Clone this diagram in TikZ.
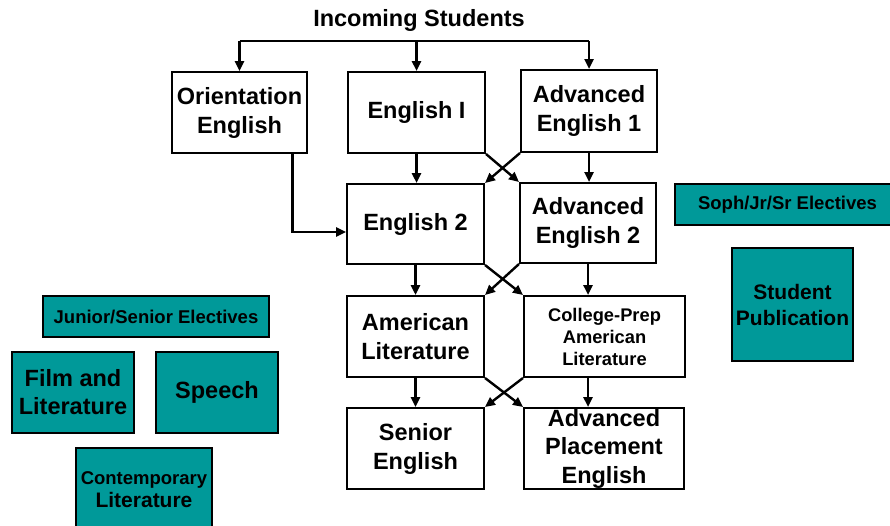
\documentclass[tikz,border=0pt]{standalone}
\usepackage{fontspec}
\setmainfont{Liberation Sans}
\usetikzlibrary{arrows.meta}
\definecolor{electeal}{RGB}{0,153,153}
\tikzset{
  course/.style={draw, line width=2pt, align=center, inner sep=0pt,
    font=\bfseries\fontsize{23.5}{29}\selectfont},
  smallcourse/.style={course, font=\bfseries\fontsize{18.3}{22}\selectfont},
  elective/.style={course, fill=electeal},
  flow/.style={line width=2.4pt, -{Triangle[length=10pt,width=9pt]}},
}
\begin{document}
\begin{tikzpicture}[x=1pt,y=-1pt]
\useasboundingbox (0,0) rectangle (890,525);
\node[font=\bfseries\fontsize{23.5}{28}\selectfont] (incoming) at (419,20){Incoming Students};
\coordinate (bar) at (418,41);
\node[course, minimum width=135, minimum height=81] (orient) at (239.5,112.5){Orientation\\English};
\node[course, minimum width=137, minimum height=81] (eng1) at (416.5,112.5){English I};
\node[course, minimum width=136, minimum height=82] (adv1) at (589,111){Advanced\\English 1};
\node[course, minimum width=137, minimum height=80] (eng2) at (415.5,224){English 2};
\node[course, minimum width=136, minimum height=80] (adv2) at (588,223){Advanced\\English 2};
\node[course, minimum width=137, minimum height=81] (amlit) at (415.5,336.5){American\\Literature};
\node[smallcourse, minimum width=161, minimum height=81] (cprep) at (604.5,336.5){College-Prep\\American\\Literature};
\node[course, minimum width=137, minimum height=81] (senior) at (415.5,448.5){Senior\\English};
\node[course, font=\bfseries\fontsize{23.5}{28.5}\selectfont, minimum width=160, minimum height=81] (ap) at (604,448.5){Advanced\\Placement\\English};
% electives
\node[elective, font=\bfseries\fontsize{18.5}{22}\selectfont, minimum width=225, minimum height=41] (soph) at (787.5,204.5){Soph/Jr/Sr Electives};
\node[elective, font=\bfseries\fontsize{21}{26}\selectfont, minimum width=121, minimum height=113] (pub) at (792.5,304.5){Student\\Publication};
\node[elective, font=\bfseries\fontsize{18.5}{22}\selectfont, minimum width=226, minimum height=41] (jrsr) at (156,316.5){Junior/Senior Electives};
\node[elective, font=\bfseries\fontsize{23.5}{28}\selectfont, minimum width=122, minimum height=81] (film) at (73,392.5){Film and\\Literature};
\node[elective, minimum width=122, minimum height=81] (speech) at (217,392.5){Speech};
\node[elective, font=\bfseries\fontsize{18.5}{23}\selectfont, minimum width=136, minimum height=84] (contemp) at (144,490){Contemporary\\{\fontsize{21}{23}\selectfont Literature}};
% arrows
\draw[line width=2.4pt] (orient.north |- bar) -- (adv1.north |- bar);
\draw[flow] (orient.north |- bar) -- (orient.north);
\draw[flow] (eng1.north |- bar) -- (eng1.north);
\draw[flow] (adv1.north |- bar) -- (adv1.north);
\draw[flow] ([xshift=53pt]orient.south) |- ([yshift=-8pt]eng2.west);
\draw[flow] (eng1.south) -- (eng1.south |- eng2.north);
\draw[flow] (adv1.south) -- (adv1.south |- adv2.north);
\draw[flow] (eng1.south east) -- (adv2.north west);
\draw[flow] (adv1.south west) -- (eng2.north east);
\draw[flow] (eng2.south) -- (amlit.north);
\draw[flow] (adv2.south) -- (adv2.south |- cprep.north);
\draw[flow] (eng2.south east) -- (cprep.north west);
\draw[flow] (adv2.south west) -- (amlit.north east);
\draw[flow] (amlit.south) -- (senior.north);
\draw[flow] (adv2.south |- cprep.south) -- (adv2.south |- ap.north);
\draw[flow] (amlit.south east) -- (ap.north west);
\draw[flow] (cprep.south west) -- (senior.north east);
\end{tikzpicture}
\end{document}
